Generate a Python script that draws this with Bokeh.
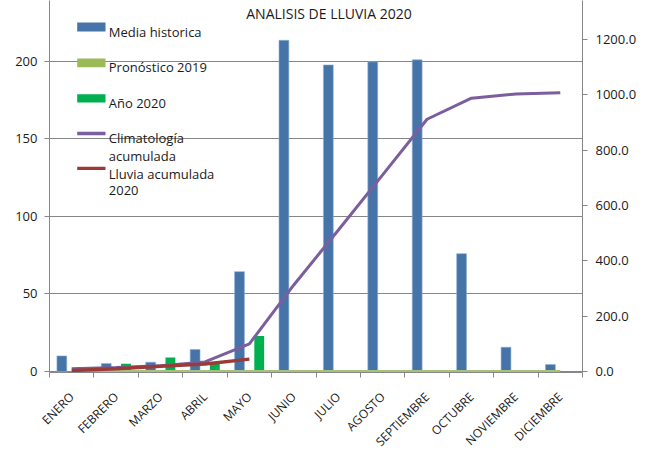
import math
from bokeh.plotting import figure
from bokeh.models import (ColumnDataSource, Range1d, LinearAxis, FixedTicker, Label,
                          BoxAnnotation, NumeralTickFormatter)
from bokeh.transform import dodge
from bokeh.embed import file_html
from bokeh.resources import INLINE

# ---------------- data ----------------
meses = ["ENERO", "FEBRERO", "MARZO", "ABRIL", "MAYO", "JUNIO", "JULIO",
         "AGOSTO", "SEPTIEMBRE", "OCTUBRE", "NOVIEMBRE", "DICIEMBRE"]
media_historica = [10.1, 5.2, 6.0, 14.2, 64.4, 213.5, 197.6, 199.6, 200.9, 76.0, 15.7, 4.5]
pronostico_2019 = [0, 0, 0, 0, 0, 0, 0, 0, 0, 0, 0, 0]
ano_2020 = [3, 5, 9, 5, 23, 0, 0, 0, 0, 0, 0, 0]
climatologia_acum = [10, 15, 21, 35, 100, 313, 511, 711, 912, 988, 1003, 1008]
lluvia_acum_2020 = [4, 10, 19, 27, 45]

left_ticks = [0, 50, 100, 150, 200]
right_ticks = [0, 200, 400, 600, 800, 1000, 1200]
titulo = "ANALISIS DE LLUVIA 2020"

FONT = "Open Sans"
TXT = "#1a1a1a"
GRAY = "#868686"

pos = [i + 0.5 for i in range(len(meses))]
src = ColumnDataSource(dict(x=pos, media=media_historica, pron=pronostico_2019,
                            ano=ano_2020, clima=climatologia_acum))
src20 = ColumnDataSource(dict(x=pos[:len(lluvia_acum_2020)], y=lluvia_acum_2020))

# frame geometry (pixels on the page)
FL, FR, FB = 49, 582, 372
PXU_L = 1.5517      # px per left-axis unit
PXU_R = 0.27667     # px per right-axis unit
L0 = -0.6           # small offset so the zero line is not hidden by the axis
LEFT_MAX = L0 + FB / PXU_L
R0 = L0 * PXU_L / PXU_R
RIGHT_MAX = R0 + FB / PXU_R

p = figure(width=654, height=467, output_backend="svg", toolbar_location=None,
           x_range=Range1d(0, 12), y_range=Range1d(L0, LEFT_MAX),
           min_border_left=FL, min_border_right=654 - FR, min_border_top=0,
           min_border_bottom=467 - FB, margin=(0, 0, 0, 0))
p.extra_y_ranges = {"acum": Range1d(R0, RIGHT_MAX)}
p.outline_line_color = None
p.background_fill_color = "white"
p.border_fill_color = "white"

def px2x(px):
    return (px - FL) / ((FR - FL) / 12.0)

def py2y(py):
    return L0 + (FB - py) / PXU_L

# axes
xa = p.xaxis[0]
xa.ticker = FixedTicker(ticks=pos, minor_ticks=list(range(13)))
xa.major_label_overrides = {x: m for x, m in zip(pos, meses)}
xa.major_tick_line_color = None
xa.minor_tick_out = 5
xa.minor_tick_in = 0
xa.minor_tick_line_color = GRAY
xa.axis_line_color = GRAY
xa.major_label_orientation = math.pi / 4
xa.major_label_text_font = FONT
xa.major_label_text_font_size = "12px"
xa.major_label_text_color = TXT
xa.major_label_standoff = 16

ya = p.yaxis[0]
ya.ticker = FixedTicker(ticks=left_ticks)
ya.major_tick_out = 5
ya.major_tick_in = 0
ya.minor_tick_line_color = None
ya.major_tick_line_color = GRAY
ya.axis_line_color = GRAY
ya.major_label_text_font = FONT
ya.major_label_text_font_size = "13px"
ya.major_label_text_color = TXT
ya.major_label_standoff = 7

ra = LinearAxis(y_range_name="acum", ticker=FixedTicker(ticks=right_ticks),
                formatter=NumeralTickFormatter(format="0.0"))
ra.major_tick_out = 5
ra.major_tick_in = 0
ra.minor_tick_line_color = None
ra.major_tick_line_color = GRAY
ra.axis_line_color = GRAY
ra.major_label_text_font = FONT
ra.major_label_text_font_size = "13px"
ra.major_label_text_color = TXT
ra.major_label_standoff = 8
p.add_layout(ra, "right")

p.xgrid.visible = False
p.ygrid.ticker = FixedTicker(ticks=left_ticks)
p.ygrid.grid_line_color = GRAY
p.ygrid.grid_line_width = 1

# bars
W = 0.222
p.vbar(x=dodge("x", -W), top="media", width=W, source=src,
       fill_color="#4674A9", line_color="#8fb0d6", line_width=0.6)
p.vbar(x="x", top="pron", width=W, source=src, fill_color="#9BBB59", line_color=None)
p.vbar(x=dodge("x", W), top="ano", width=W, source=src, fill_color="#00B050", line_color=None)

# lines
p.line(x="x", y="pron", source=src, line_color="#A5C17A", line_width=3)
p.line(x="x", y="clima", source=src, y_range_name="acum", line_color="#7B5E9E", line_width=3)
p.line(x="x", y="y", source=src20, y_range_name="acum", line_color="#9B3B38", line_width=3.5)

# legend (manual)
def swatch(top, bottom, color):
    p.add_layout(BoxAnnotation(left=px2x(76.7), right=px2x(105), top=py2y(top), bottom=py2y(bottom),
                               fill_color=color, fill_alpha=1, line_color=None))

def text(px, py, t, size="13px", align="left"):
    p.add_layout(Label(x=px2x(px), y=py2y(py), text=t, text_font=FONT, text_font_size=size,
                       text_color=TXT, text_baseline="alphabetic", text_align=align))

swatch(22, 31, "#4674A9")
swatch(58, 66.7, "#9BBB59")
swatch(93.7, 102, "#00B050")
swatch(131.3, 134.7, "#7B5E9E")
swatch(166.2, 169.6, "#9B3B38")
text(108.3, 31, "Media historica")
text(108.3, 66.7, "Pronóstico 2019")
text(108.3, 102, "Año 2020")
text(108.3, 137.3, "Climatología")
text(108.3, 155, "acumulada")
text(108.3, 173.3, "Lluvia acumulada")
text(108.3, 190, "2020")

# title (kept fully visible at the top edge)
text(328.5, 13, titulo, size="14px", align="center")

# chart-area border (left / right edges)
p.add_layout(BoxAnnotation(left=12, right=641, top=-20, bottom=600,
                           left_units="canvas", right_units="canvas",
                           top_units="canvas", bottom_units="canvas",
                           fill_alpha=0, line_color=GRAY, line_width=1))

open("out.html", "w").write(file_html(p, INLINE))
